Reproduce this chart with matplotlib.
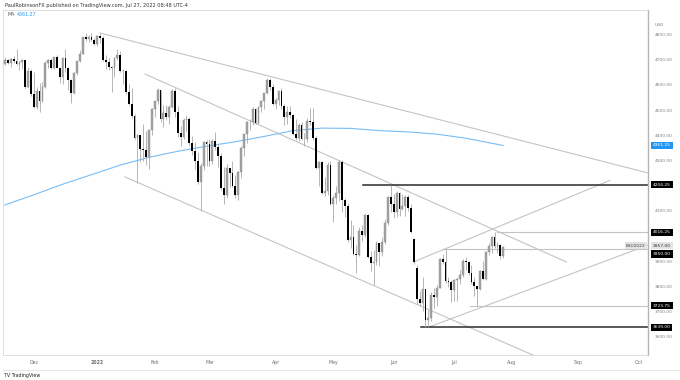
import matplotlib
matplotlib.use("Agg")
import matplotlib.pyplot as plt
import matplotlib.transforms as mtransforms
import numpy as np
import pandas as pd

# trading days start 2021-11-16, US market holidays removed
holidays = ["2021-11-25", "2021-12-24", "2022-01-17", "2022-02-21", "2022-04-15",
            "2022-05-30", "2022-06-20", "2022-07-04", "2022-09-05"]

# daily OHLC, Nov 16 2021 .. Jul 27 2022 (one row per month)
opens = [
    4683, 4701, 4689, 4705, 4698, 4683, 4691, 4701, 4595, 4655,
    4567, 4513, 4577, 4538, 4592, 4687, 4701, 4668, 4712, 4669, 4634, 4710, 4669, 4621, 4568, 4649, 4697, 4726, 4791, 4786, 4793, 4779,
    4766, 4797, 4790, 4701, 4692, 4673, 4667, 4709, 4722, 4655, 4658, 4573, 4527, 4477, 4391, 4402, 4349, 4342, 4317, 4423,
    4507, 4536, 4580, 4468, 4490, 4473, 4512, 4578, 4496, 4410, 4393, 4463, 4467, 4372, 4341, 4299, 4217, 4280, 4375,
    4365, 4298, 4379, 4356, 4321, 4193, 4164, 4272, 4253, 4199, 4166, 4256, 4351, 4405, 4456, 4453, 4505, 4450, 4513, 4537, 4569, 4622, 4595,
    4524, 4541, 4576, 4519, 4476, 4496, 4483, 4406, 4391, 4442, 4387, 4386, 4459, 4454, 4390, 4270, 4295, 4172, 4179, 4285,
    4128, 4152, 4172, 4296, 4143, 4120, 3987, 3996, 3930, 3926, 4021, 4005, 4085, 3919, 3896, 3898, 3972, 3939, 3976, 4055, 4157,
    4128, 4098, 4173, 4107, 4119, 4158, 4114, 3988, 3875, 3750, 3736, 3790, 3667, 3675, 3765, 3760, 3796, 3911, 3900, 3821, 3819,
    3785, 3825, 3831, 3845, 3903, 3899, 3854, 3819, 3802, 3790, 3863, 3831, 3937, 3960, 3999, 3962, 3967, 3921,
]
highs = [
    4714, 4705, 4708, 4717, 4744, 4698, 4702, 4702, 4672, 4663,
    4653, 4595, 4608, 4612, 4695, 4706, 4708, 4713, 4720, 4670, 4712, 4743, 4672, 4625, 4651, 4698, 4740, 4792, 4807, 4801, 4808, 4787,
    4800, 4808, 4795, 4722, 4708, 4676, 4711, 4745, 4738, 4665, 4660, 4605, 4590, 4486, 4406, 4404, 4448, 4417, 4428, 4510,
    4538, 4588, 4582, 4522, 4522, 4520, 4586, 4588, 4519, 4439, 4472, 4482, 4474, 4400, 4376, 4334, 4290, 4378, 4381,
    4388, 4385, 4413, 4365, 4332, 4276, 4287, 4273, 4300, 4243, 4258, 4358, 4407, 4459, 4468, 4513, 4511, 4516, 4540, 4570, 4631, 4628, 4607,
    4549, 4582, 4590, 4524, 4517, 4518, 4487, 4465, 4450, 4454, 4410, 4470, 4510, 4511, 4397, 4299, 4298, 4236, 4295, 4301,
    4166, 4199, 4305, 4302, 4153, 4131, 4063, 4044, 3965, 4036, 4044, 4089, 4087, 3941, 3944, 3981, 3974, 3999, 4067, 4162, 4204.25,
    4168, 4180, 4175, 4168, 4164, 4165, 4129, 3995, 3885, 3782, 3838, 3791, 3708, 3779, 3796, 3806, 3913, 3928, 3950, 3837, 3828,
    3829, 3833, 3866, 3909, 3919, 3901, 3885, 3839, 3804, 3867, 3904, 3940, 3975, 4001, 4016.25, 3976, 3970, 3962,
]
lows = [
    4679, 4683, 4672, 4690, 4679, 4659, 4663, 4585, 4590, 4557,
    4511, 4504, 4495, 4532, 4590, 4667, 4666, 4665, 4667, 4608, 4607, 4652, 4583, 4529, 4566, 4640, 4692, 4724, 4778, 4774, 4776, 4761,
    4756, 4769, 4696, 4663, 4659, 4575, 4635, 4700, 4652, 4606, 4564, 4521, 4470, 4387, 4213, 4296, 4298, 4282, 4268, 4403,
    4474, 4525, 4456, 4436, 4462, 4447, 4509, 4474, 4393, 4357, 4385, 4417, 4359, 4323, 4267, 4208, 4102, 4265, 4280,
    4279, 4288, 4343, 4277, 4185, 4129, 4152, 4196, 4195, 4152, 4144, 4233, 4320, 4369, 4423, 4444, 4448, 4446, 4494, 4507, 4566, 4582, 4523,
    4506, 4521, 4507, 4444, 4445, 4470, 4401, 4382, 4380, 4383, 4360, 4376, 4443, 4382, 4267, 4200, 4167, 4161, 4166, 4125,
    4058, 4128, 4139, 4097, 4076, 3976, 3953, 3924, 3855, 3920, 3981, 3998, 3912, 3863, 3807, 3886, 3881, 3923, 3968, 4047, 4095,
    4072, 4075, 4080, 4105, 4080, 4099, 4015, 3890, 3733, 3723, 3705, 3640, 3639, 3665, 3717, 3724, 3796, 3889, 3815, 3800, 3740,
    3745, 3743, 3811, 3838, 3867, 3848, 3810, 3763, 3723.75, 3788, 3826, 3826, 3925, 3935, 3955, 3935, 3910, 3915,
]
closes = [
    4701, 4689, 4705, 4698, 4683, 4691, 4701, 4595, 4655, 4567,
    4513, 4577, 4538, 4592, 4687, 4701, 4668, 4712, 4669, 4634, 4710, 4669, 4621, 4568, 4649, 4697, 4726, 4791, 4786, 4793, 4779, 4766,
    4797, 4790, 4701, 4692, 4673, 4667, 4709, 4722, 4655, 4658, 4573, 4527, 4477, 4391, 4402, 4349, 4342, 4317, 4423, 4507,
    4536, 4580, 4468, 4490, 4473, 4512, 4578, 4496, 4410, 4393, 4463, 4467, 4372, 4341, 4299, 4217, 4280, 4375, 4365,
    4298, 4379, 4356, 4321, 4193, 4164, 4272, 4253, 4199, 4166, 4256, 4351, 4405, 4456, 4453, 4505, 4450, 4513, 4537, 4569, 4622, 4595, 4524,
    4541, 4576, 4519, 4476, 4496, 4483, 4406, 4391, 4442, 4387, 4386, 4459, 4454, 4390, 4270, 4295, 4172, 4179, 4285, 4128,
    4152, 4172, 4296, 4143, 4120, 3987, 3996, 3930, 3926, 4021, 4005, 4085, 3919, 3896, 3898, 3972, 3939, 3976, 4055, 4157, 4128,
    4098, 4173, 4107, 4119, 4158, 4114, 4016, 3899, 3750, 3736, 3790, 3667, 3675, 3765, 3760, 3796, 3911, 3900, 3821, 3819, 3785,
    3825, 3831, 3845, 3903, 3899, 3854, 3819, 3802, 3790, 3863, 3831, 3937, 3960, 3999, 3962, 3967, 3921, 3957,
]

# 200-day moving average, read at a few bars
ma_bar = [0, 10, 20, 30, 40, 50, 60, 70, 80, 90, 100, 110, 120, 130, 140, 150, 160, 173]
ma_val = [4125, 4165, 4207, 4245, 4283, 4314, 4338, 4358, 4376, 4397, 4420, 4430, 4429, 4420, 4415, 4406, 4390, 4361]

# drawn trend lines: (bar0, price0, bar1, price1)
trend_lines = [
    (33, 4808, 223.3, 4252),
    (48.6, 4645, 195, 3898),
    (41.7, 4236, 195, 3470),
    (142, 3899, 210, 4222),
    (147, 3639, 223.3, 3965),
]
# horizontal levels: (start bar, price, dark?)
levels = [(124.3, 4204.25, True), (144.4, 3639.00, True), (170.8, 4016.25, False),
          (151.7, 3950.00, False), (161.5, 3723.75, False)]
# price-scale tags: (value shown, where the tag sits)
level_tags = [(4204.25, 4204.25), (4016.25, 4016.25), (3950.00, 3930),
              (3723.75, 3723.75), (3639.00, 3639.00)]
ma_last = 4361.25
last_price = 3957.00
price_ticks = [3600, 3700, 3800, 3900, 4100, 4300, 4400, 4500, 4600, 4700, 4800]

W, H = 680, 380
fig = plt.figure(figsize=(6.8, 3.8), dpi=100)
ax = fig.add_axes([3 / W, (H - 355) / H, 645 / W, 345 / H])
XMAX = 223.3
ax.set_xlim(-0.7, XMAX)
ax.set_ylim(3528.6, 4899.3)
ax.set_xticks([])
ax.set_yticks([])
for side, sp in ax.spines.items():
    sp.set_color('#d8d8d8')
    sp.set_linewidth(0.6)
ax.spines['right'].set_color('#b4b4b4')
ax.spines['right'].set_linewidth(1.0)

x = np.arange(len(closes))
o, h, l, c = (np.array(v, dtype=float) for v in (opens, highs, lows, closes))
up = c >= o
ax.vlines(x, l, h, color='#aaaaaa', lw=0.6, zorder=3)
body = np.maximum(np.abs(c - o), 2)
ax.bar(x[up], body[up], bottom=o[up], width=0.62, color='#a3a3a3',
       edgecolor='#8c8c8c', linewidth=0.3, zorder=4)
ax.bar(x[~up], body[~up], bottom=c[~up], width=0.62, color='black', zorder=4)

ax.plot(ma_bar, ma_val, color='#78bcf4', lw=0.8, zorder=2)

for b0, p0, b1, p1 in trend_lines:
    ax.plot([b0, b1], [p0, p1], color='#c4c4c4', lw=0.8, zorder=1)
for b0, p, dark in levels:
    ax.plot([b0, XMAX], [p, p], color='#2b2b2b' if dark else '#c4c4c4',
            lw=1.1 if dark else 0.8, zorder=1)

# price scale
ty = mtransforms.blended_transform_factory(ax.transAxes, ax.transData)
for p in price_ticks:
    ax.text(1.0109, p, f"{p:.2f}", transform=ty, fontsize=3.2, color='#808080',
            va='center', ha='left', clip_on=False)
ax.text(1.0109, 4838, "USD", transform=ty, fontsize=3.2, color='#808080',
        va='center', ha='left', clip_on=False)


def tag(price, txt, fc, tc):
    ax.text(1.0078, price, txt, transform=ty, fontsize=3.2, color=tc, va='center',
            ha='left', clip_on=False, zorder=10,
            bbox=dict(boxstyle='square,pad=0.35', fc=fc, ec='none'))


tag(ma_last, f"{ma_last:.2f}", '#2196f3', 'white')
for value, pos in level_tags:
    tag(pos, f"{value:.2f}", 'black', 'white')
tag(3963, f"{last_price:.2f}", '#e3e3e3', '#333333')
ax.text(0.9965, 3963, "ESU2022", transform=ty, fontsize=3.2, color='#444444',
        va='center', ha='right', clip_on=False, zorder=10,
        bbox=dict(boxstyle='square,pad=0.35', fc='#e3e3e3', ec='none'))

# time scale: first trading day of each month
dates = pd.bdate_range("2021-11-16", "2022-10-31")
dates = dates[~dates.isin(pd.to_datetime(holidays))]
tx = mtransforms.blended_transform_factory(ax.transData, ax.transAxes)
months = pd.Series(np.arange(len(dates)), index=dates)
for period, idx in months.groupby(dates.to_period('M')).first().items():
    if idx == 0:
        continue
    label = "2022" if period.month == 1 else period.strftime('%b')
    ax.text(idx, -0.022, label, transform=tx, fontsize=3.4, color='#707070',
            ha='center', va='center', clip_on=False,
            fontweight='bold' if period.month == 1 else 'normal')
fig.add_artist(plt.Line2D([3 / W, 1], [(H - 370) / H] * 2, color='#e4e4e4', lw=0.6))

# header / footer
fig.text(5 / W, 1 - 5 / H, "PaulRobinsonFX published on TradingView.com, Jul 27, 2022 08:48 UTC-4",
         fontsize=3.6, color='#333333', va='center', ha='left')
fig.text(8 / W, 1 - 15 / H, "MA", fontsize=3.4, color='#555555', va='center', ha='left')
fig.text(17 / W, 1 - 15 / H, "4361.27", fontsize=3.4, color='#2196f3', va='center', ha='left')
fig.text(4 / W, 1 - 375 / H, "TV TradingView", fontsize=3.4, color='#222222', va='center', ha='left')

fig.savefig("out.png", dpi=100, facecolor='white')
